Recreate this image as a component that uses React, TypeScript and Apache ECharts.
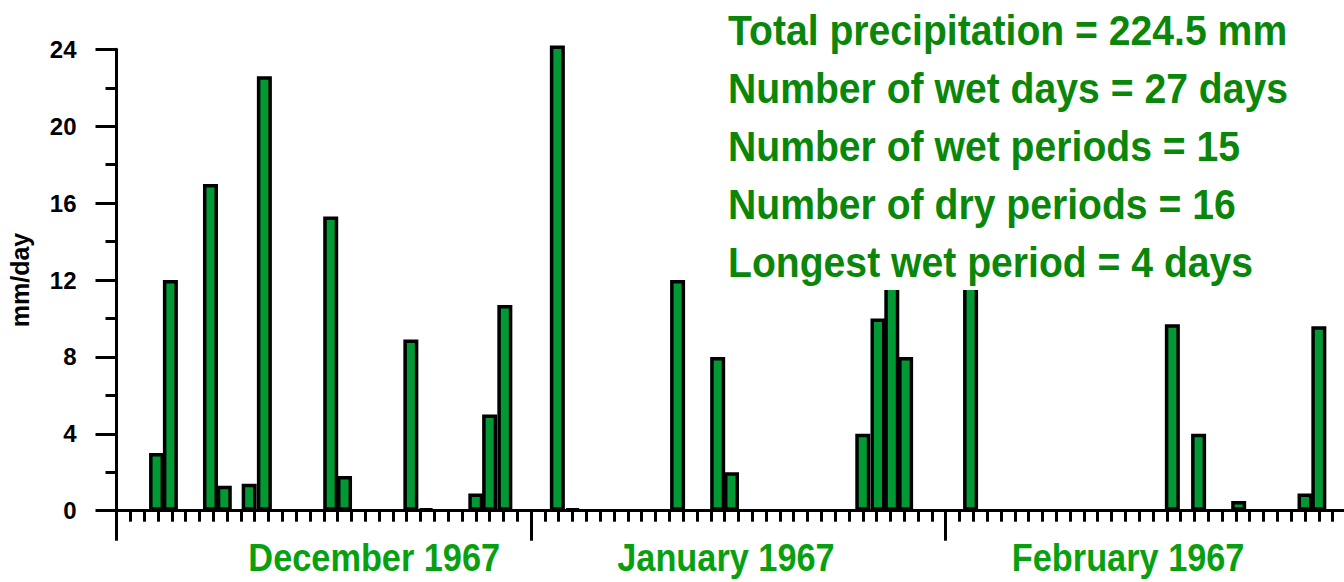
import React, { useEffect, useRef } from "react";
import * as echarts from "echarts";

// Day position on the axis (0 = start of December, 30 ticks per month) and daily precipitation (mm/day)
const dayPositions = [2.9, 3.9, 6.8, 7.8, 9.6, 10.7, 15.5, 16.5, 21.3, 22.4, 26.0, 27.0, 28.1, 31.9, 33.0, 40.6, 43.5, 44.5, 54.0, 55.1, 56.1, 57.1, 61.8, 76.4, 78.3, 81.2, 86.0, 87.0];
const precipitation = [3.0, 12.0, 17.0, 1.3, 1.4, 22.6, 15.3, 1.8, 8.9, 0.1, 0.9, 5.0, 10.7, 24.2, 0.1, 12.0, 8.0, 2.0, 4.0, 10.0, 15.5, 8.0, 16.0, 9.7, 4.0, 0.5, 0.9, 9.6];

const monthNames = ["December 1967", "January 1967", "February 1967"];
const monthLabelPositions = [18.65, 44.1, 73.2];

const statLines = [
  "Total precipitation = 224.5 mm",
  "Number of wet days = 27 days",
  "Number of wet periods = 15",
  "Number of dry periods = 16",
  "Longest wet period = 4 days",
];

const FONT = "'Liberation Sans', Arial, sans-serif";

export default function App() {
  const ref = useRef<HTMLDivElement>(null);

  useEffect(() => {
    document.body.style.margin = "0";
    if (!ref.current) return;
    const chart = echarts.init(ref.current, null, { renderer: "svg" });

    const data = dayPositions.map((d, i) => [d, precipitation[i]]);

    chart.setOption({
      animation: false,
      backgroundColor: "#ffffff",
      grid: {
        left: 116.5,
        top: 49.3,
        width: 1243.8,
        bottom: 71.3,
        containLabel: false,
        outerBoundsMode: "none",
      },
      xAxis: {
        type: "value",
        min: 0,
        max: 90,
        interval: 30,
        axisLine: { show: true, onZero: false, lineStyle: { color: "#000", width: 3 } },
        axisTick: { show: true, length: 30, lineStyle: { color: "#000", width: 3 } },
        minorTick: { show: true, splitNumber: 30, length: 11, lineStyle: { color: "#000", width: 3 } },
        splitLine: { show: false },
        minorSplitLine: { show: false },
        axisLabel: { show: false },
      },
      yAxis: {
        type: "value",
        min: 0,
        max: 24,
        interval: 4,
        name: "mm/day",
        nameLocation: "middle",
        nameGap: 84,
        nameRotate: 90,
        nameTextStyle: { color: "#000", fontFamily: FONT, fontSize: 25, fontWeight: "bold" },
        axisLine: { show: true, lineStyle: { color: "#000", width: 3 } },
        axisTick: { show: true, length: 21, lineStyle: { color: "#000", width: 3 } },
        minorTick: { show: true, splitNumber: 2, length: 11, lineStyle: { color: "#000", width: 3 } },
        splitLine: { show: false },
        minorSplitLine: { show: false },
        axisLabel: {
          color: "#000",
          fontFamily: FONT,
          fontSize: 24,
          fontWeight: "bold",
          margin: 40,
        },
      },
      series: [
        {
          type: "bar",
          data,
          barWidth: 15,
          clip: false,
          itemStyle: { color: "#009933", borderColor: "#000", borderWidth: 3.5 },
        },
      ],
    });

    const statEls = statLines.map((t, i) => ({
      type: "text",
      x: 728,
      y: 30.5 + i * 58,
      scaleX: 0.91,
      z: 101,
      style: {
        text: t,
        fill: "#0a870a",
        font: `bold 43px ${FONT}`,
        textAlign: "left",
        verticalAlign: "middle",
      },
    }));

    const monthEls = monthNames.map((name, i) => {
      const px = chart.convertToPixel({ xAxisIndex: 0 }, monthLabelPositions[i]) as number;
      return {
        type: "text",
        x: px,
        y: 558,
        scaleX: 0.88,
        z: 101,
        style: {
          text: name,
          fill: "#08a010",
          font: `bold 39px ${FONT}`,
          textAlign: "center",
          verticalAlign: "middle",
        },
      };
    });

    chart.setOption({
      graphic: [
        {
          type: "rect",
          z: 100,
          shape: { x: 722, y: 0, width: 580, height: 290 },
          style: { fill: "#ffffff" },
        },
        ...statEls,
        ...monthEls,
      ],
    });

    return () => chart.dispose();
  }, []);

  return <div ref={ref} style={{ width: 1344, height: 582 }} />;
}
